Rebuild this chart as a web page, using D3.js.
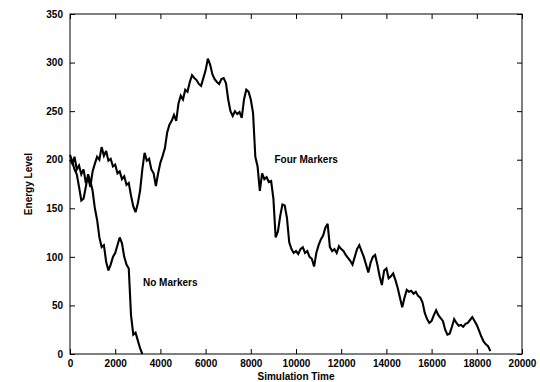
<!DOCTYPE html>
<html>
<head>
<meta charset="utf-8">
<script src="https://cdn.jsdelivr.net/npm/d3@7"></script>
<style>
  html, body { margin: 0; padding: 0; background: #fff; }
  svg { display: block; }
  .tick text { font-family: "Liberation Sans", Arial, sans-serif; font-weight: bold; font-size: 10px; fill: #000; }
  .lbl { font-family: "Liberation Sans", Arial, sans-serif; font-weight: bold; font-size: 10px; fill: #000; }
</style>
</head>
<body>
<div id="chart"></div>
<script>
// Energy traces sampled every 100 simulation-time units
const sampleStep = 100;

const fourMarkers = [
  200, 196, 203, 190, 194, 185, 190, 176, 182, 172,
  188, 196, 203, 200, 213, 204, 209, 199, 201, 193,
  195, 186, 188, 180, 183, 174, 176, 163, 152, 146,
  155, 168, 190, 207, 199, 201, 190, 186, 173, 186,
  197, 204, 212, 228, 236, 240, 246, 240, 258, 266,
  262, 272, 270, 280, 287, 284, 282, 278, 276, 284,
  292, 304, 298, 288, 283, 280, 278, 283, 284, 279,
  262, 250, 245, 250, 247, 249, 243, 262, 272, 270,
  262, 248, 203, 193, 168, 186, 180, 182, 177, 178,
  160, 120, 126, 142, 154, 153, 140, 115, 108, 104,
  106, 103, 108, 110, 104, 106, 100, 98, 90, 104,
  112, 118, 122, 130, 134, 110, 106, 108, 104, 111,
  108, 106, 102, 99, 96, 92, 100, 108, 112, 106,
  100, 92, 84, 94, 100, 102, 92, 80, 71, 86,
  88, 78, 80, 83, 76, 68, 58, 48, 58, 66,
  64, 65, 62, 64, 60, 58, 53, 42, 36, 32,
  34, 40, 45, 40, 37, 34, 25, 20, 21, 28,
  36, 32, 29, 30, 28, 31, 32, 35, 38, 34,
  30, 24, 18, 13, 10, 8, 3
];

const noMarkers = [
  205, 198, 190, 185, 172, 158, 160, 172, 185, 178,
  168, 150, 138, 120, 110, 112, 95, 86, 92, 100,
  104, 112, 120, 114, 100, 92, 88, 40, 20, 22,
  14, 6, 0
];

const xTicks = [0, 2000, 4000, 6000, 8000, 10000, 12000, 14000, 16000, 18000, 20000];
const yTicks = [0, 50, 100, 150, 200, 250, 300, 350];

const seriesLabels = [
  { name: "Four Markers", t: 9050, v: 197 },
  { name: "No Markers", t: 3230, v: 70 }
];

const width = 540, height = 382;
const margin = { left: 70, right: 18, top: 14, bottom: 28 };
const innerW = width - margin.left - margin.right;
const innerH = height - margin.top - margin.bottom;

const svg = d3.select("#chart").append("svg")
  .attr("width", width).attr("height", height);

const x = d3.scaleLinear().domain([0, 20000]).range([margin.left, margin.left + innerW]);
const y = d3.scaleLinear().domain([0, 350]).range([margin.top + innerH, margin.top]);

const tickLen = 5;

// bottom axis with labels, ticks pointing into the plot
const gx = svg.append("g")
  .attr("transform", `translate(0,${margin.top + innerH})`)
  .call(d3.axisBottom(x).tickValues(xTicks).tickFormat(d3.format("d"))
    .tickSizeInner(-tickLen).tickSizeOuter(0).tickPadding(6));
gx.select(".domain").remove();

// mirrored top ticks
const gxt = svg.append("g")
  .attr("transform", `translate(0,${margin.top})`)
  .call(d3.axisTop(x).tickValues(xTicks).tickFormat("")
    .tickSizeInner(-tickLen).tickSizeOuter(0));
gxt.select(".domain").remove();

// left axis with labels
const gy = svg.append("g")
  .attr("transform", `translate(${margin.left},0)`)
  .call(d3.axisLeft(y).tickValues(yTicks).tickFormat(d3.format("d"))
    .tickSizeInner(-tickLen).tickSizeOuter(0).tickPadding(7));
gy.select(".domain").remove();

// mirrored right ticks
const gyr = svg.append("g")
  .attr("transform", `translate(${margin.left + innerW},0)`)
  .call(d3.axisRight(y).tickValues(yTicks).tickFormat("")
    .tickSizeInner(-tickLen).tickSizeOuter(0));
gyr.select(".domain").remove();

svg.selectAll(".tick line").attr("stroke", "#000").attr("stroke-width", 1);

// plot frame
svg.append("rect")
  .attr("x", margin.left).attr("y", margin.top)
  .attr("width", innerW).attr("height", innerH)
  .attr("fill", "none").attr("stroke", "#000").attr("stroke-width", 1);

const line = d3.line()
  .x((d, i) => x(i * sampleStep))
  .y(d => y(d));

[fourMarkers, noMarkers].forEach(vals => {
  svg.append("path")
    .datum(vals)
    .attr("fill", "none")
    .attr("stroke", "#000")
    .attr("stroke-width", 2.1)
    .attr("stroke-linejoin", "miter")
    .attr("stroke-miterlimit", 3)
    .attr("d", line);
});

// series annotations
svg.selectAll(".series-label")
  .data(seriesLabels)
  .enter().append("text")
  .attr("class", "lbl")
  .attr("x", d => x(d.t))
  .attr("y", d => y(d.v))
  .text(d => d.name);

// axis titles
svg.append("text")
  .attr("class", "lbl")
  .attr("text-anchor", "middle")
  .attr("x", margin.left + innerW / 2)
  .attr("y", 380)
  .text("Simulation Time");

svg.append("text")
  .attr("class", "lbl")
  .attr("text-anchor", "middle")
  .attr("transform", `translate(32,${margin.top + innerH / 2}) rotate(-90)`)
  .text("Energy Level");
</script>
</body>
</html>
